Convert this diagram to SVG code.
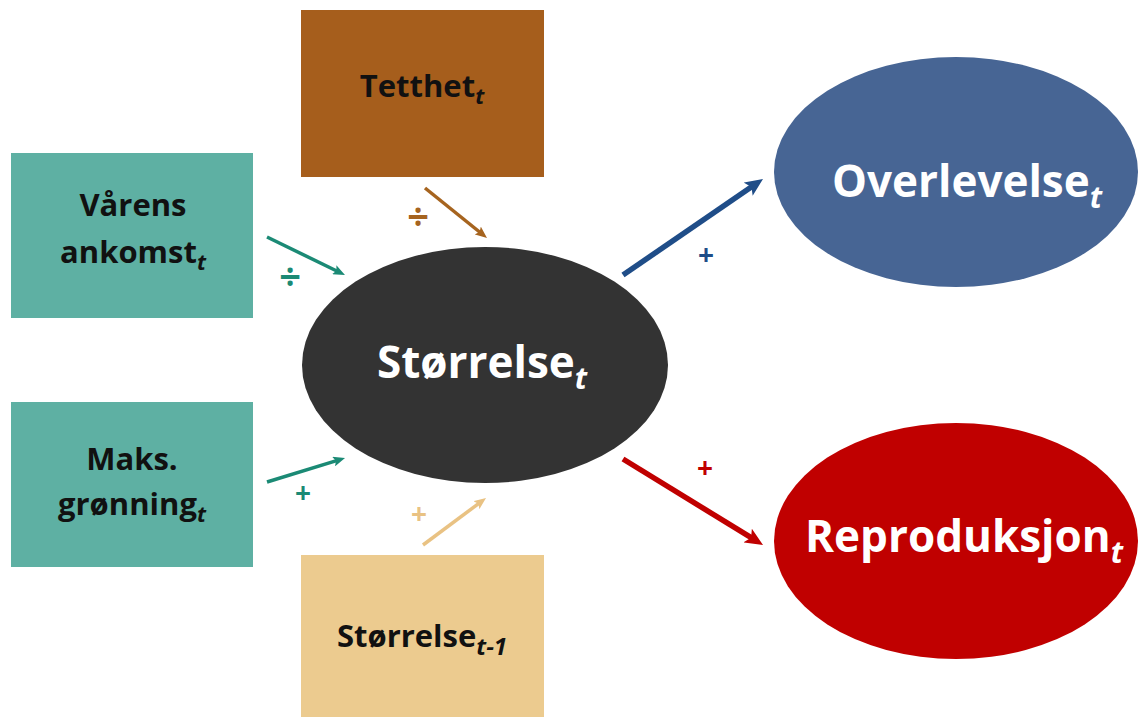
<svg xmlns="http://www.w3.org/2000/svg" width="1139" height="717" viewBox="0 0 1139 717">
<style>
.lbl{font-family:"Open Sans","Liberation Sans",sans-serif;font-weight:bold;text-anchor:middle}
.box{font-size:31px;fill:#111}
.ell{font-size:44px;fill:#fff}
.sub{font-style:italic}
.sign{font-family:"Open Sans","Liberation Sans",sans-serif;font-weight:bold;font-size:28px;text-anchor:middle}
.div{font-size:38px}
</style>
<defs>
<marker id="mTeal" markerUnits="userSpaceOnUse" viewBox="0 -5 12 10" markerWidth="12" markerHeight="10" refX="4" refY="0" orient="auto"><path d="M0,-5 L12,0 L0,5 L2.5,0 z" fill="#1b8a75"/></marker>
<marker id="mBrown" markerUnits="userSpaceOnUse" viewBox="0 -5 12 10" markerWidth="12" markerHeight="10" refX="4" refY="0" orient="auto"><path d="M0,-5 L12,0 L0,5 L2.5,0 z" fill="#a6641f"/></marker>
<marker id="mTan" markerUnits="userSpaceOnUse" viewBox="0 -5 12 10" markerWidth="12" markerHeight="10" refX="4" refY="0" orient="auto"><path d="M0,-5 L12,0 L0,5 L2.5,0 z" fill="#e9c283"/></marker>
<marker id="mBlue" markerUnits="userSpaceOnUse" viewBox="0 -8 18 16" markerWidth="18" markerHeight="16" refX="6" refY="0" orient="auto"><path d="M0,-8 L18,0 L0,8 L4,0 z" fill="#1f4d88"/></marker>
<marker id="mRed" markerUnits="userSpaceOnUse" viewBox="0 -8 18 16" markerWidth="18" markerHeight="16" refX="6" refY="0" orient="auto"><path d="M0,-8 L18,0 L0,8 L4,0 z" fill="#c00000"/></marker>
</defs>
<rect width="1139" height="717" fill="#fff"/>

<g id="varens">
<rect x="11" y="153" width="242" height="165" fill="#5eb0a3"/>
<text class="lbl box" x="133" y="216">Vårens</text>
<text class="lbl box" x="133" y="263">ankomst<tspan class="sub" font-size="22" dy="7">t</tspan></text>
</g>
<g id="maks">
<rect x="11" y="402" width="242" height="165" fill="#5eb0a3"/>
<text class="lbl box" x="132" y="470">Maks.</text>
<text class="lbl box" x="132" y="515">grønning<tspan class="sub" font-size="22" dy="7">t</tspan></text>
</g>
<g id="tetthet">
<rect x="301" y="10" width="243" height="167" fill="#a65e1c"/>
<text class="lbl box" x="422" y="97">Tetthet<tspan class="sub" font-size="22" dy="7">t</tspan></text>
</g>
<g id="storrelse-prev">
<rect x="301" y="555" width="243" height="162" fill="#eccb8f"/>
<text class="lbl box" x="422" y="647">Størrelse<tspan class="sub" font-size="24" dy="8">t-1</tspan></text>
</g>
<g id="storrelse">
<ellipse cx="485" cy="365" rx="183" ry="118" fill="#333333"/>
<text class="lbl ell" x="482" y="378">Størrelse<tspan class="sub" font-size="30" dy="11">t</tspan></text>
</g>
<g id="overlevelse">
<ellipse cx="956" cy="172" rx="182" ry="115" fill="#476594"/>
<text class="lbl ell" x="967" y="197">Overlevelse<tspan class="sub" font-size="30" dy="11">t</tspan></text>
</g>
<g id="reproduksjon">
<ellipse cx="956" cy="541" rx="182" ry="118" fill="#c00000"/>
<text class="lbl ell" x="964" y="552">Reproduksjon<tspan class="sub" font-size="30" dy="11">t</tspan></text>
</g>

<g id="connectors" fill="none">
<line x1="267" y1="237" x2="337.8" y2="271.5" stroke="#1b8a75" stroke-width="3.5" marker-end="url(#mTeal)"/>
<line x1="267" y1="482" x2="337.4" y2="460.4" stroke="#1b8a75" stroke-width="3.5" marker-end="url(#mTeal)"/>
<line x1="425" y1="188" x2="480.8" y2="233" stroke="#a6641f" stroke-width="3.5" marker-end="url(#mBrown)"/>
<line x1="423" y1="545" x2="479.6" y2="502.8" stroke="#e9c283" stroke-width="3.5" marker-end="url(#mTan)"/>
<line x1="623" y1="275" x2="753.1" y2="185.8" stroke="#1f4d88" stroke-width="5.5" marker-end="url(#mBlue)"/>
<line x1="623" y1="459" x2="752.8" y2="538.7" stroke="#c00000" stroke-width="5.5" marker-end="url(#mRed)"/>
<text class="sign div" x="290" y="290" fill="#1b8a75">÷</text>
<text class="sign" x="303" y="503" fill="#1b8a75">+</text>
<text class="sign div" x="418" y="230" fill="#a6641f">÷</text>
<text class="sign" x="419" y="524" fill="#e9c283">+</text>
<text class="sign" x="706" y="265" fill="#1f4d88">+</text>
<text class="sign" x="705" y="478" fill="#c00000">+</text>
</g>
</svg>
